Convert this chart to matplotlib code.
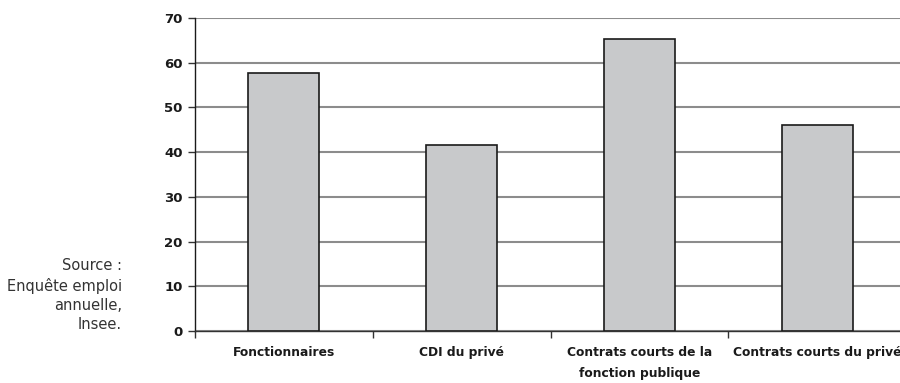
import matplotlib
matplotlib.use("Agg")
import matplotlib.pyplot as plt

categories = ["Fonctionnaires", "CDI du privé",
              "Contrats courts de la\nfonction publique", "Contrats courts du privé"]
values = [57.8, 41.7, 65.4, 46.1]
y_ticks = [0, 10, 20, 30, 40, 50, 60, 70]
source_text = "Source :\nEnquête emploi\nannuelle,\nInsee."

plt.rcParams["font.family"] = ["DejaVu Sans"]

fig = plt.figure(figsize=(9.0, 3.83), dpi=100)
ax = fig.add_axes([195 / 900, 52 / 383, 711 / 900, 313 / 383])

x = list(range(len(categories)))
ax.bar(x, values, width=0.4, color="#c8c9cb", edgecolor="#1a1a1a",
       linewidth=1.2, zorder=3)

ax.set_xlim(-0.5, len(categories) - 0.5)
ax.set_ylim(0, 70)
ax.set_yticks(y_ticks)
ax.set_yticklabels([str(v) for v in y_ticks], fontsize=9.5, fontweight="bold",
                   color="#1a1a1a")
ax.yaxis.grid(True, color="#8c8c8c", linewidth=1.5, zorder=0)

# category labels centred on the bars, tick marks on the category boundaries
ax.set_xticks(x)
ax.set_xticklabels(categories, fontsize=8.8, fontweight="bold",
                   color="#1a1a1a", linespacing=1.75)
ax.tick_params(axis="x", which="major", length=0, pad=11)
ax.set_xticks([i - 0.5 for i in range(len(categories) + 1)], minor=True)
ax.tick_params(axis="x", which="minor", length=5, width=1, color="#333333",
               direction="out")
ax.tick_params(axis="y", length=5, width=1, color="#333333", pad=4)

for side in ("top", "right"):
    ax.spines[side].set_visible(False)
ax.spines["left"].set_color("#1a1a1a")
ax.spines["bottom"].set_color("#333333")
ax.spines["left"].set_linewidth(1.0)
ax.spines["bottom"].set_linewidth(1.0)

fig.text(122 / 900, 1 - 258 / 383, source_text, ha="right", va="top",
         fontsize=10.5, color="#333333", linespacing=1.35)

fig.savefig("out.png", dpi=100)
